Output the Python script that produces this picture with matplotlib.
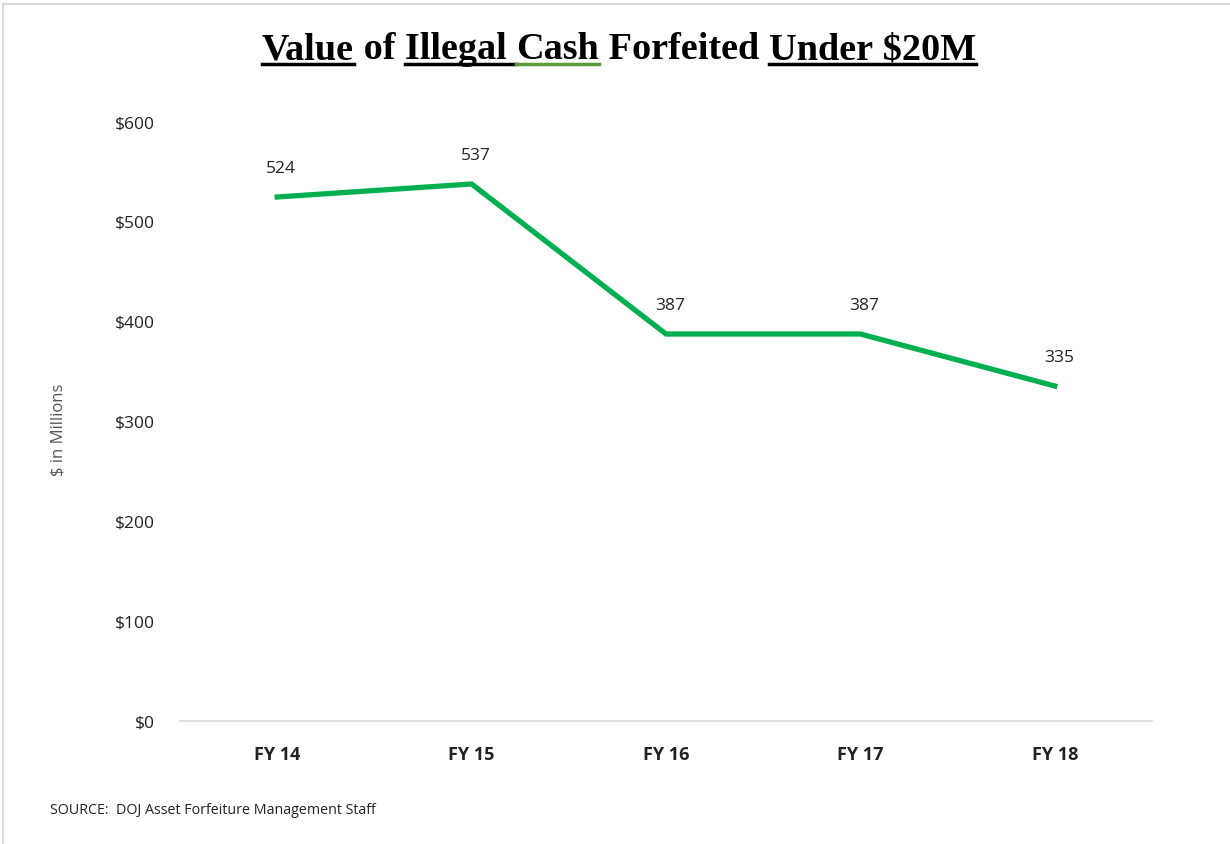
import matplotlib
matplotlib.use('Agg')
import matplotlib.pyplot as plt
from matplotlib.lines import Line2D

years = ['FY 14', 'FY 15', 'FY 16', 'FY 17', 'FY 18']
values = [524, 537, 387, 387, 335]
y_ticks = [0, 100, 200, 300, 400, 500, 600]

# title pieces: (text, underline colour or None)
title_parts = [('Value', 'black'), (' of ', None), ('Illegal ', 'black'),
               ('Cash', '#5a9a3c'), (' Forfeited ', None), ('Under $20M', 'black')]

W, H = 1230, 845
fig = plt.figure(figsize=(W / 100, H / 100), dpi=100)
fig.patch.set_facecolor('white')

ax = fig.add_axes([180 / W, 1 - 722 / H, (1152 - 180) / W, (722 - 122) / H])
x = list(range(len(years)))
ax.plot(x, values, color='#00B050', lw=3.8, solid_joinstyle='miter')
for xi, v in zip(x, values):
    ax.annotate(str(v), (xi, v), xytext=(3, 15), textcoords='offset points',
                ha='center', va='bottom', fontsize=12.5, family='Open Sans', color='#222222')

ax.set_xlim(-0.5, len(years) - 0.5)
ax.set_ylim(0, 600)
ax.set_yticks(y_ticks)
ax.set_yticklabels(['${}'.format(t) for t in y_ticks], family='Open Sans', fontsize=12.5, color='#222222')
ax.set_xticks(x)
ax.set_xticklabels(years, family='Open Sans', fontsize=13, fontweight='bold', color='#222222')
ax.tick_params(axis='y', length=0, pad=18)
ax.tick_params(axis='x', length=0, pad=17)
for s in ['top', 'right', 'left']:
    ax.spines[s].set_visible(False)
ax.spines['bottom'].set_color('#d9d9d9')
ax.spines['bottom'].set_linewidth(1.2)

fig.text(58 / W, 1 - 430 / H, '$ in Millions', rotation=90, ha='center', va='center',
         fontsize=12, family='Open Sans', color='#555555')
fig.text(50 / W, 1 - 811 / H, 'SOURCE:  DOJ Asset Forfeiture Management Staff',
         ha='left', va='center', fontsize=10.3, family='Open Sans', color='#222222')

# title with partial underlines
renderer = fig.canvas.get_renderer()
tkw = dict(family='Liberation Serif', fontsize=27.5, fontweight='bold', color='black', va='baseline', ha='left')
widths = []
for txt, _ in title_parts:
    t = fig.text(0, 0, txt.replace(' ', '\u00a0'), **tkw)
    widths.append(t.get_window_extent(renderer).width)
    t.remove()
total = sum(widths)
x0 = 619 - total / 2
base_y = 1 - 59 / H
for (txt, ul), w in zip(title_parts, widths):
    fig.text(x0 / W, base_y, txt.replace(' ', '\u00a0'), **tkw)
    if ul:
        fig.add_artist(Line2D([x0 / W, (x0 + w) / W], [1 - 65 / H, 1 - 65 / H],
                              color=ul, lw=2.5, transform=fig.transFigure))
    x0 += w

# light border at top and left
fig.add_artist(Line2D([3 / W, 1], [1 - 5 / H, 1 - 5 / H], color='#d9d9d9', lw=1.5, transform=fig.transFigure))
fig.add_artist(Line2D([3 / W, 3 / W], [0, 1 - 5 / H], color='#d9d9d9', lw=1.5, transform=fig.transFigure))

fig.savefig('out.png', dpi=100)
